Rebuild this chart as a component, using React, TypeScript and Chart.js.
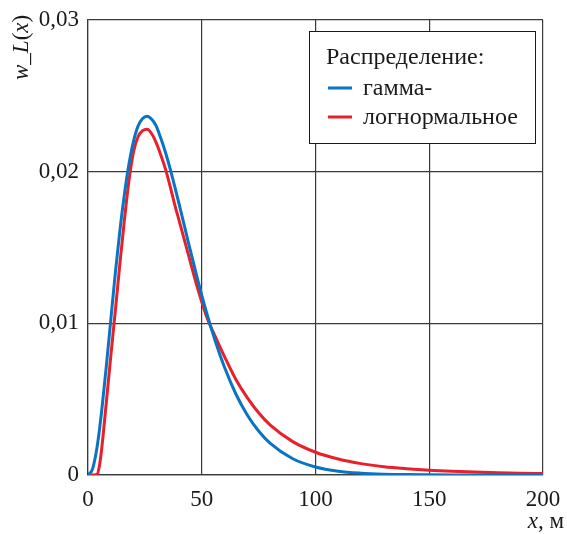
import React, { useEffect, useRef } from "react";
import { Chart, registerables } from "chart.js";

Chart.register(...registerables);

const xValues = [0, 2, 4, 5, 6, 8, 10, 12, 14, 16, 18, 20, 22, 24, 26, 28, 30, 32, 34, 36, 38, 40, 44, 48, 52, 56, 60, 65, 70, 75, 80, 90, 100, 110, 120, 130, 140, 150, 160, 170, 180, 190, 200];
const gammaValues = [0, 0.0004, 0.00185, 0.00293, 0.0042, 0.0071, 0.0102, 0.0133, 0.0161, 0.0185, 0.0205, 0.022, 0.023, 0.0235, 0.02365, 0.02345, 0.023, 0.0222, 0.0213, 0.02025, 0.0191, 0.0179, 0.0154, 0.013, 0.01077, 0.0088, 0.0071, 0.00534, 0.00396, 0.0029, 0.0021, 0.00107, 0.00053, 0.00025, 0.00012, 0.000056, 0.000025, 0.000012, 0.000005, 0.000002, 0.000001, 0, 0];
const lognormValues = [0, 0, 0.00005, 0.0006, 0.0017, 0.0047, 0.0078, 0.0108, 0.0139, 0.0168, 0.0194, 0.0213, 0.0223, 0.0227, 0.0228, 0.0225, 0.0219, 0.0211, 0.0202, 0.0191, 0.0179, 0.0168, 0.0146, 0.0124, 0.0105, 0.0091, 0.0078, 0.0063, 0.0051, 0.0041, 0.0033, 0.0022, 0.0015, 0.00105, 0.00075, 0.00055, 0.00042, 0.00032, 0.00025, 0.0002, 0.00015, 0.00012, 0.0001];

const seriesLabels = ["гамма-", "логнормальное"];
const seriesColors = ["#0a74c4", "#e8202a"];
const legendTitle = "Распределение:";
const xMin = 0;
const xMax = 200;
const xStep = 50;
const yMin = 0;
const yMax = 0.03;
const yStep = 0.01;

const FONT = "'Liberation Serif', 'Times New Roman', serif";
const FS = 23;
const LFS = 24;
const INK = "#1a1a1a";
const GRID = "#3a3a3a";

const overlayPlugin = {
  id: "overlay",
  afterDraw(chart: any) {
    const { ctx, chartArea } = chart;
    ctx.save();
    // Legend box
    const bw = 226;
    const bh = 112;
    const bx = Math.round(chartArea.right - 234);
    const by = Math.round(chartArea.top + 11);
    ctx.fillStyle = "#ffffff";
    ctx.fillRect(bx, by, bw, bh);
    ctx.strokeStyle = INK;
    ctx.lineWidth = 1;
    ctx.strokeRect(bx + 0.5, by + 0.5, bw, bh);
    ctx.fillStyle = INK;
    ctx.font = `${LFS}px ${FONT}`;
    ctx.textAlign = "left";
    ctx.textBaseline = "alphabetic";
    ctx.fillText(legendTitle, bx + 17, by + 33);
    const rows = [by + 57, by + 86];
    chart.data.datasets.forEach((ds: any, i: number) => {
      const y = rows[i];
      ctx.strokeStyle = ds.borderColor;
      ctx.lineWidth = 3;
      ctx.beginPath();
      ctx.moveTo(bx + 19, y);
      ctx.lineTo(bx + 43, y);
      ctx.stroke();
      ctx.fillStyle = INK;
      ctx.fillText(ds.label, bx + 54, y + 7);
    });

    // Y axis title (rotated): w_L(x)
    ctx.save();
    ctx.translate(28, 80);
    ctx.rotate(-Math.PI / 2);
    let cx = 0;
    const parts: [string, boolean][] = [["w", true], ["_", false], ["L", true], ["(", false], ["x", true], [")", false]];
    for (const [t, it] of parts) {
      ctx.font = `${it ? "italic " : ""}${FS}px ${FONT}`;
      ctx.fillText(t, cx, 0);
      cx += ctx.measureText(t).width;
    }
    ctx.restore();

    // X axis title: x, м (right aligned)
    const xParts: [string, boolean][] = [["x", true], [", м", false]];
    let total = 0;
    for (const [t, it] of xParts) {
      ctx.font = `${it ? "italic " : ""}${FS}px ${FONT}`;
      total += ctx.measureText(t).width;
    }
    let tx = 564 - total;
    for (const [t, it] of xParts) {
      ctx.font = `${it ? "italic " : ""}${FS}px ${FONT}`;
      ctx.fillText(t, tx, 528);
      tx += ctx.measureText(t).width;
    }
    ctx.restore();
  },
};

export default function App() {
  const ref = useRef<HTMLCanvasElement | null>(null);
  useEffect(() => {
    if (!ref.current) return;
    const mk = (vals: number[]) => xValues.map((x, i) => ({ x, y: vals[i] }));
    const chart = new Chart(ref.current, {
      type: "line",
      data: {
        datasets: [
          {
            label: seriesLabels[0],
            data: mk(gammaValues),
            borderColor: seriesColors[0],
            borderWidth: 3,
            pointRadius: 0,
            cubicInterpolationMode: "monotone",
            fill: false,
          },
          {
            label: seriesLabels[1],
            data: mk(lognormValues),
            borderColor: seriesColors[1],
            borderWidth: 3,
            pointRadius: 0,
            cubicInterpolationMode: "monotone",
            fill: false,
          },
        ],
      },
      options: {
        responsive: false,
        animation: false,
        layout: { padding: { top: 20, right: 24, left: 0, bottom: 0 } },
        plugins: {
          legend: { display: false },
          tooltip: { enabled: false },
          title: { display: false },
        },
        scales: {
          x: {
            type: "linear",
            min: xMin,
            max: xMax,
            ticks: {
              stepSize: xStep,
              padding: 11,
              color: INK,
              font: { family: FONT, size: FS },
              maxRotation: 0,
            },
            grid: { color: GRID, lineWidth: 1.2, drawTicks: false },
            border: { display: true, color: GRID, width: 1.2 },
            afterFit: (s: any) => {
              s.height = 59;
              s.paddingLeft = 0;
              s.paddingRight = 0;
            },
          },
          y: {
            type: "linear",
            min: yMin,
            max: yMax,
            ticks: {
              stepSize: yStep,
              padding: 9,
              color: INK,
              font: { family: FONT, size: FS },
              callback: (v: any) => (Number(v) === 0 ? "0" : Number(v).toFixed(2).replace(".", ",")),
            },
            grid: { color: GRID, lineWidth: 1.2, drawTicks: false },
            border: { display: true, color: GRID, width: 1.2 },
            afterFit: (s: any) => {
              s.width = 88;
              s.paddingTop = 0;
              s.paddingBottom = 0;
            },
          },
        },
      },
      plugins: [overlayPlugin],
    } as any);
    return () => chart.destroy();
  }, []);
  return (
    <div style={{ position: "absolute", left: 0, top: 0, width: 567, height: 534, background: "#fff" }}>
      <canvas ref={ref} width={567} height={534} style={{ display: "block" }} />
    </div>
  );
}
